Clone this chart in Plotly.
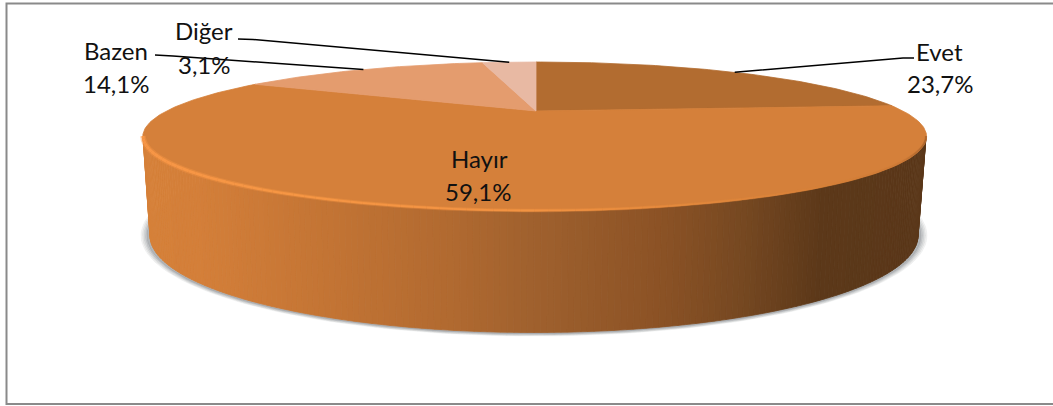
import numpy as np
import plotly.graph_objects as go

# ---- data ----
categories = ["Evet", "Hayır", "Bazen", "Diğer"]
values = [23.7, 59.1, 14.1, 3.1]
value_labels = ["23,7%", "59,1%", "14,1%", "3,1%"]

# ---- styles / layout ----
face_colors = ["#B26C30", "#D5803A", "#E49C6E", "#E8B9A3"]
W, H = 1053, 406
X0, Y0 = 536.0, 111.0           # pie apex in the page
A_L, A_R, B, K = 369.5, 367.0, 65.77, 0.342   # perspective of the top disc
TOP = dict(cx=534.5, cy=136.5, rx=391.5, ry=74.5)
BOT = dict(cx=534.0, cy=235.5, rx=384.0, ry=97.0)
FONT = "Lato"
FS = 24
label_pos = {
    "Evet": ((939, 51), (940, 83)),
    "Hayır": ((479, 158), (478, 191)),
    "Bazen": ((116, 50), (116, 83)),
    "Diğer": ((204, 30), (204, 64)),
}
elbows = {
    "Evet": [(914, 58), (903, 58)],
    "Bazen": [(155, 55), (173, 56)],
    "Diğer": [(238, 39), (253, 39.5)],
}


def project(theta):
    """Angle clockwise from 12 o'clock on the disc -> page coordinates."""
    u, v = np.sin(theta), np.cos(theta)
    w = 1 + K * v
    a = np.where(u < 0, A_L, A_R)
    return X0 + a * u / w, Y0 - B * v / w


def ell(e, t, grow=0.0, grow_y=0.0):
    return e["cx"] + (e["rx"] + grow) * np.cos(t), e["cy"] + (e["ry"] + grow_y) * np.sin(t)


def lerp_rgb(x, stops):
    xs = [s[0] for s in stops]
    return tuple(round(float(np.interp(x, xs, [s[1][i] for s in stops]))) for i in range(3))


def lerp_stops(x, stops):
    return "rgb(%d,%d,%d)" % lerp_rgb(x, stops)


wall_stops = [
    (150, (213, 128, 57)), (200, (212, 127, 57)), (330, (195, 116, 52)),
    (447, (178, 106, 48)), (530, (160, 97, 46)), (660, (139, 82, 37)),
    (740, (118, 72, 33)), (817, (92, 56, 25)), (925, (90, 55, 25)),
]
rim_stops = [
    (143, (247, 150, 70)), (300, (246, 150, 68)), (520, (243, 147, 66)),
    (700, (226, 136, 60)), (830, (214, 128, 56)), (900, (205, 122, 54)), (926, (170, 100, 45)),
]

fig = go.Figure()


def poly(xs, ys, color):
    fig.add_trace(go.Scatter(x=xs, y=ys, mode="lines", fill="toself", fillcolor=color,
                             line=dict(color=color, width=0.8), hoverinfo="skip",
                             showlegend=False))


# soft shadow under the wall
t_all = np.linspace(0, 2 * np.pi, 200)
for g, g_y, alpha in [(9, 3.5, 0.08), (7.5, 3.0, 0.10), (6, 2.4, 0.12), (4.5, 1.8, 0.16), (3, 1.2, 0.22)]:
    sx, sy = ell(BOT, t_all, g, g_y)
    poly(sx, sy, "rgba(110,115,120,%.2f)" % alpha)

# side wall, as vertical strips with a horizontal gradient
edges = np.linspace(np.pi, 0, 181)
for t0, t1 in zip(edges[:-1], edges[1:]):
    tt = np.array([t0, t1])
    tx, ty = ell(TOP, tt)
    bx, by = ell(BOT, tt)
    xs = [tx[0], tx[1], bx[1], bx[0], tx[0]]
    ys = [ty[0], ty[1], by[1], by[0], ty[0]]
    poly(xs, ys, lerp_stops((bx[0] + bx[1]) / 2, wall_stops))

# top face slices, built from the values
cum = np.cumsum([0] + values) / sum(values) * 2 * np.pi
mids = {}
for name, c, a0, a1 in zip(categories, face_colors, cum[:-1], cum[1:]):
    th = np.linspace(a0, a1, max(8, int((a1 - a0) * 60)))
    px, py = project(th)
    poly([X0, *px, X0], [Y0, *py, Y0], c)
    mx, my = project(np.array([(a0 + a1) / 2]))
    mids[name] = (float(mx[0]), float(my[0]))

# bright, slightly blurred rim on the front edge
rim = np.linspace(np.pi, 0, 91)
for t0, t1 in zip(rim[:-1], rim[1:]):
    rx, ry = ell(TOP, np.array([t0, t1]))
    xm = (rx[0] + rx[1]) / 2
    wd = float(np.interp(xm, [143, 300, 700, 926], [3, 2.2, 1.6, 1.2]))
    fig.add_trace(go.Scatter(x=rx, y=ry - 0.5, mode="lines", hoverinfo="skip", showlegend=False,
                             line=dict(color="rgba(%d,%d,%d,0.4)" % lerp_rgb(xm, rim_stops), width=wd * 1.9)))
    fig.add_trace(go.Scatter(x=rx, y=ry - 0.5, mode="lines", hoverinfo="skip", showlegend=False,
                             line=dict(color=lerp_stops(xm, rim_stops), width=wd)))

# leader lines
for name, pts in elbows.items():
    mx, my = mids[name]
    fig.add_trace(go.Scatter(x=[pts[0][0], pts[1][0], mx], y=[pts[0][1], pts[1][1], my],
                             mode="lines", line=dict(color="#000000", width=1.5),
                             hoverinfo="skip", showlegend=False))

# labels
ann = []
for name, lab in zip(categories, value_labels):
    (x1, y1), (x2, y2) = label_pos[name]
    for txt, x, y in ((name, x1, y1), (lab, x2, y2)):
        ann.append(dict(x=x, y=y, text=txt, showarrow=False, xanchor="center", yanchor="middle",
                        font=dict(family=FONT, size=FS, color="#111111"), xref="x", yref="y"))

fig.update_layout(
    width=W, height=H, margin=dict(l=0, r=0, t=0, b=0), showlegend=False,
    paper_bgcolor="#FFFFFF", plot_bgcolor="#FFFFFF", annotations=ann,
    xaxis=dict(range=[0, W], visible=False, fixedrange=True),
    yaxis=dict(range=[H, 0], visible=False, fixedrange=True),
    shapes=[dict(type="rect", x0=6.5, y0=3.5, x1=W + 20, y1=404,
                 line=dict(color="#8A8A8A", width=2), layer="below")],
)
fig.write_html("out.html", config={"displayModeBar": False},
               post_script="document.body.style.margin='0';document.body.style.overflow='hidden';")
